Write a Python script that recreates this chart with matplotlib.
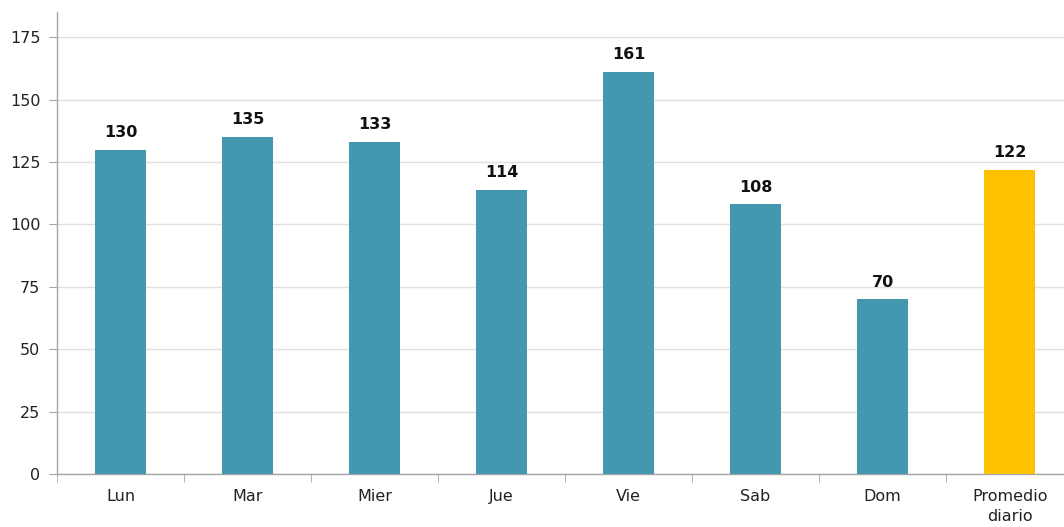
import matplotlib.pyplot as plt
import numpy as np

plt.rcParams['font.family'] = ['DejaVu Sans']

categories = ["Lun", "Mar", "Mier", "Jue", "Vie", "Sab", "Dom", "Promedio\ndiario"]
values = [130, 135, 133, 114, 161, 108, 70, 122]
bar_colors = ["#4397AE"] * 7 + ["#FFC000"]

fig = plt.figure(figsize=(10.64, 5.27), dpi=100)
ax = fig.add_axes([0.0536, 0.1006, 0.955, 0.876])

x = np.arange(len(categories))
bars = ax.bar(x, values, width=0.4, color=bar_colors, zorder=3)

for xi, v in zip(x, values):
    ax.annotate(str(v), (xi, v), xytext=(0, 7), textcoords="offset points",
                ha="center", va="bottom", fontsize=11.5, fontweight="bold", color="#111111")

ax.set_xlim(-0.5, len(categories) - 0.5)
ax.set_ylim(0, 185)
ax.set_yticks(np.arange(0, 176, 25))
ax.yaxis.grid(True, color="#E0E0E0", linewidth=1, zorder=0)

ax.set_xticks(x)
ax.set_xticklabels(categories, fontsize=11.5, color="#222222", linespacing=1.4)
ax.set_xticks(np.arange(-0.5, len(categories), 1), minor=True)
ax.tick_params(axis="x", which="major", length=0, pad=11)
ax.tick_params(axis="x", which="minor", length=6, color="#A6A6A6")
ax.tick_params(axis="y", length=6, color="#A6A6A6", labelsize=11.5, labelcolor="#222222", pad=6)

for s in ["top", "right"]:
    ax.spines[s].set_visible(False)
for s in ["left", "bottom"]:
    ax.spines[s].set_color("#A6A6A6")
    ax.spines[s].set_linewidth(1)

fig.savefig("out.png", dpi=100)
